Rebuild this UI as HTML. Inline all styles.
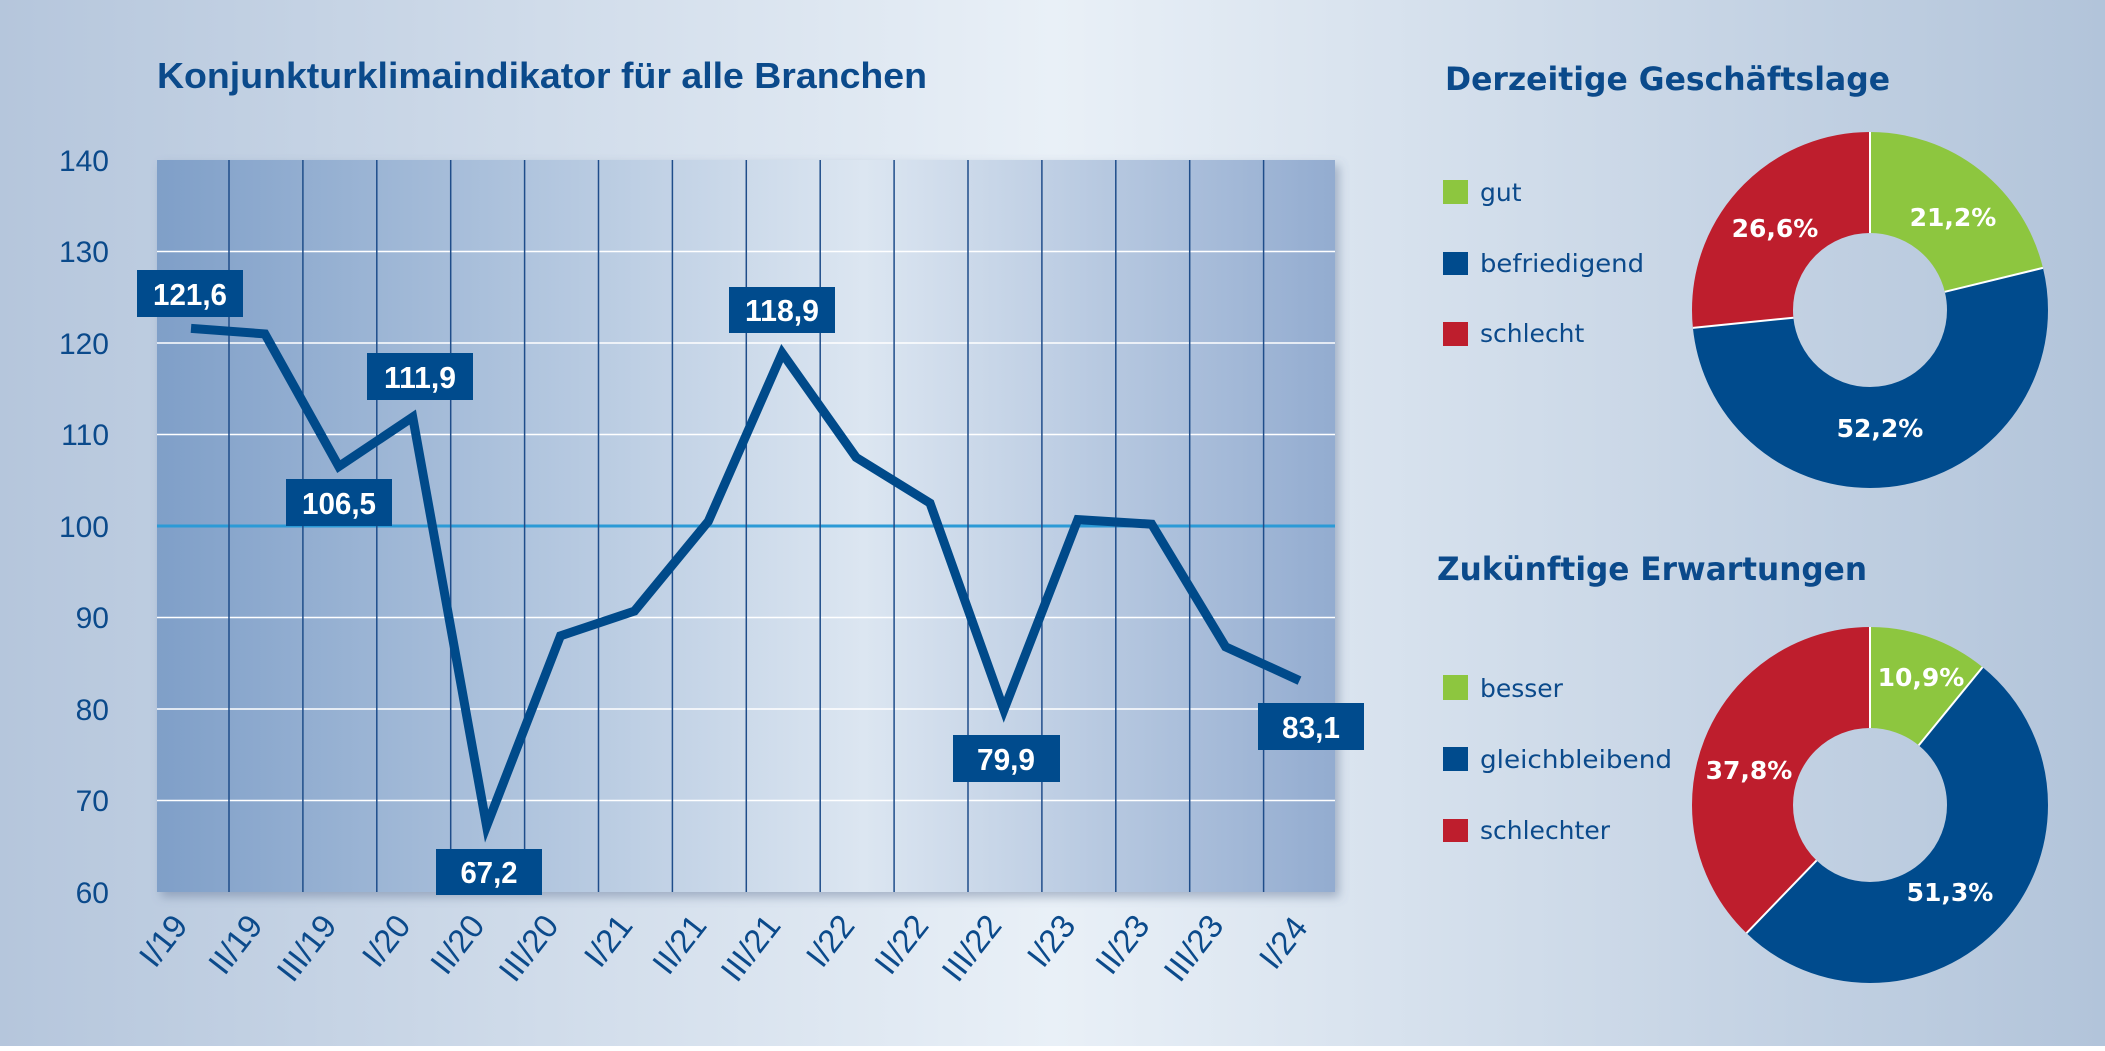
<!DOCTYPE html>
<html><head><meta charset="utf-8"><style>html,body{margin:0;padding:0}body{width:2105px;height:1046px;overflow:hidden}</style></head>
<body>
<svg width="2105" height="1046" viewBox="0 0 2105 1046" xmlns="http://www.w3.org/2000/svg" font-family="Liberation Sans, sans-serif">
<defs>
<linearGradient id="bg" x1="0" x2="1" y1="0" y2="0">
<stop offset="0" stop-color="#b5c6dc"/><stop offset="0.5" stop-color="#e9f0f7"/><stop offset="1" stop-color="#b2c4da"/>
</linearGradient>
<linearGradient id="pl" x1="0" x2="1" y1="0" y2="0">
<stop offset="0" stop-color="#7f9fc8"/><stop offset="0.6" stop-color="#dce6f1"/><stop offset="1" stop-color="#93acd0"/>
</linearGradient>
<filter id="sh" x="-5%" y="-5%" width="110%" height="110%"><feDropShadow dx="4" dy="5" stdDeviation="5" flood-color="#5a6f8f" flood-opacity="0.45"/></filter>
</defs>
<rect width="2105" height="1046" fill="url(#bg)"/>
<text x="157" y="88" font-size="36" font-weight="bold" fill="#0b4a8b" textLength="770" lengthAdjust="spacingAndGlyphs">Konjunkturklimaindikator für alle Branchen</text>
<rect x="157" y="160" width="1178" height="732" fill="url(#pl)" filter="url(#sh)"/>
<g stroke="#ffffff" stroke-width="1.5">
<line x1="157" x2="1335" y1="251.5" y2="251.5"/><line x1="157" x2="1335" y1="343" y2="343"/><line x1="157" x2="1335" y1="434.5" y2="434.5"/><line x1="157" x2="1335" y1="617.5" y2="617.5"/><line x1="157" x2="1335" y1="709" y2="709"/><line x1="157" x2="1335" y1="800.5" y2="800.5"/>
</g>
<line x1="157" x2="1335" y1="526" y2="526" stroke="#2b9ad6" stroke-width="3"/>
<g stroke="#1f4d8a" stroke-width="1.5">
<line x1="229" x2="229" y1="160" y2="892"/><line x1="302.9" x2="302.9" y1="160" y2="892"/><line x1="376.8" x2="376.8" y1="160" y2="892"/><line x1="450.7" x2="450.7" y1="160" y2="892"/><line x1="524.6" x2="524.6" y1="160" y2="892"/><line x1="598.5" x2="598.5" y1="160" y2="892"/><line x1="672.4" x2="672.4" y1="160" y2="892"/><line x1="746.3" x2="746.3" y1="160" y2="892"/><line x1="820.2" x2="820.2" y1="160" y2="892"/><line x1="894.1" x2="894.1" y1="160" y2="892"/><line x1="968" x2="968" y1="160" y2="892"/><line x1="1041.9" x2="1041.9" y1="160" y2="892"/><line x1="1115.8" x2="1115.8" y1="160" y2="892"/><line x1="1189.7" x2="1189.7" y1="160" y2="892"/><line x1="1263.6" x2="1263.6" y1="160" y2="892"/>
</g>
<g font-size="30" fill="#0b4a8b" text-anchor="end">
<text x="109" y="171">140</text><text x="109" y="262">130</text><text x="109" y="354">120</text><text x="109" y="445">110</text><text x="109" y="537">100</text><text x="109" y="628">90</text><text x="109" y="720">80</text><text x="109" y="811">70</text><text x="109" y="903">60</text>
</g>
<polyline fill="none" stroke="#004a8a" stroke-width="9" stroke-linejoin="miter" points="191,328.4 264.9,333.9 338.8,466.5 412.7,417.1 486.6,826.1 560.5,635.8 634.4,611.1 708.3,521.4 782.2,353.1 856.1,457.4 930,503.1 1003.9,709.9 1077.8,519.6 1151.7,524.2 1225.6,646.8 1299.5,680.6"/>
<g fill="#004b8d">
<rect x="137" y="270" width="106" height="47"/><rect x="729" y="287" width="106" height="46"/><rect x="367" y="353" width="106" height="47"/><rect x="286" y="479" width="106" height="47"/><rect x="436" y="849" width="106" height="46"/><rect x="953" y="735" width="107" height="47"/><rect x="1258" y="703" width="106" height="47"/>
</g>
<g fill="#ffffff" font-size="31" font-weight="bold" text-anchor="middle">
<text x="190" y="305" textLength="74" lengthAdjust="spacingAndGlyphs">121,6</text>
<text x="782" y="321" textLength="74" lengthAdjust="spacingAndGlyphs">118,9</text>
<text x="420" y="388" textLength="72" lengthAdjust="spacingAndGlyphs">111,9</text>
<text x="339" y="514" textLength="74" lengthAdjust="spacingAndGlyphs">106,5</text>
<text x="489" y="883" textLength="57" lengthAdjust="spacingAndGlyphs">67,2</text>
<text x="1006" y="770" textLength="58" lengthAdjust="spacingAndGlyphs">79,9</text>
<text x="1311" y="738" textLength="58" lengthAdjust="spacingAndGlyphs">83,1</text>
</g>
<g font-size="33" fill="#0b4a8b" text-anchor="end">
<text transform="translate(189,926) rotate(-52)">I/19</text>
<text transform="translate(264,926) rotate(-52)">II/19</text>
<text transform="translate(338,926) rotate(-52)">III/19</text>
<text transform="translate(412,926) rotate(-52)">I/20</text>
<text transform="translate(486,926) rotate(-52)">II/20</text>
<text transform="translate(560,926) rotate(-52)">III/20</text>
<text transform="translate(634,926) rotate(-52)">I/21</text>
<text transform="translate(708,926) rotate(-52)">II/21</text>
<text transform="translate(782,926) rotate(-52)">III/21</text>
<text transform="translate(856,926) rotate(-52)">I/22</text>
<text transform="translate(930,926) rotate(-52)">II/22</text>
<text transform="translate(1003,926) rotate(-52)">III/22</text>
<text transform="translate(1077,926) rotate(-52)">I/23</text>
<text transform="translate(1151,926) rotate(-52)">II/23</text>
<text transform="translate(1225,926) rotate(-52)">III/23</text>
<text transform="translate(1309,928) rotate(-52)">I/24</text>
</g>
<g font-family="DejaVu Sans, sans-serif" fill="#0b4a8b">
<text x="1445" y="90" font-size="32" font-weight="bold" textLength="445" lengthAdjust="spacingAndGlyphs">Derzeitige Geschäftslage</text>
<text x="1437" y="580" font-size="32" font-weight="bold" textLength="430" lengthAdjust="spacingAndGlyphs">Zukünftige Erwartungen</text>
<g font-size="25">
<text x="1480" y="201">gut</text>
<text x="1480" y="272" textLength="164" lengthAdjust="spacingAndGlyphs">befriedigend</text>
<text x="1480" y="342">schlecht</text>
<text x="1480" y="697">besser</text>
<text x="1480" y="768" textLength="192" lengthAdjust="spacingAndGlyphs">gleichbleibend</text>
<text x="1480" y="839">schlechter</text>
</g>
</g>
<rect x="1443" y="180" width="25" height="24" fill="#8dc63f"/>
<rect x="1443" y="252" width="25" height="23" fill="#004b8d"/>
<rect x="1443" y="322" width="25" height="24" fill="#be1e2d"/>
<rect x="1443" y="675" width="25" height="25" fill="#8dc63f"/>
<rect x="1443" y="747" width="25" height="24" fill="#004b8d"/>
<rect x="1443" y="819" width="25" height="23" fill="#be1e2d"/>
<g fill="none" stroke-width="101" transform="rotate(-90 1870 310)">
<circle cx="1870" cy="310" r="127.5" stroke="#8dc63f" stroke-dasharray="169.8 1000"/>
<circle cx="1870" cy="310" r="127.5" stroke="#004b8d" stroke-dasharray="418.2 1000" stroke-dashoffset="-169.8"/>
<circle cx="1870" cy="310" r="127.5" stroke="#be1e2d" stroke-dasharray="213.1 1000" stroke-dashoffset="-588"/>
</g>
<g stroke="#ffffff" stroke-width="2">
<line x1="1870" y1="132" x2="1870" y2="233"/><line x1="2042.9" y1="267.9" x2="1944.8" y2="291.8"/><line x1="1692.9" y1="327.9" x2="1793.4" y2="317.7"/>
</g>
<g fill="none" stroke-width="101" transform="rotate(-90 1870 805)">
<circle cx="1870" cy="805" r="127.5" stroke="#8dc63f" stroke-dasharray="87.3 1000"/>
<circle cx="1870" cy="805" r="127.5" stroke="#004b8d" stroke-dasharray="411 1000" stroke-dashoffset="-87.3"/>
<circle cx="1870" cy="805" r="127.5" stroke="#be1e2d" stroke-dasharray="302.8 1000" stroke-dashoffset="-498.3"/>
</g>
<g stroke="#ffffff" stroke-width="2">
<line x1="1870" y1="627" x2="1870" y2="728"/><line x1="1982.6" y1="667.1" x2="1918.7" y2="745.4"/><line x1="1746.5" y1="933.2" x2="1816.6" y2="860.4"/>
</g>
<g font-family="DejaVu Sans, sans-serif" font-weight="bold" font-size="25" fill="#ffffff" text-anchor="middle">
<text x="1953" y="226">21,2%</text>
<text x="1775" y="237">26,6%</text>
<text x="1880" y="437">52,2%</text>
<text x="1921" y="686">10,9%</text>
<text x="1749" y="779">37,8%</text>
<text x="1950" y="901">51,3%</text>
</g>
</svg>
</body></html>
